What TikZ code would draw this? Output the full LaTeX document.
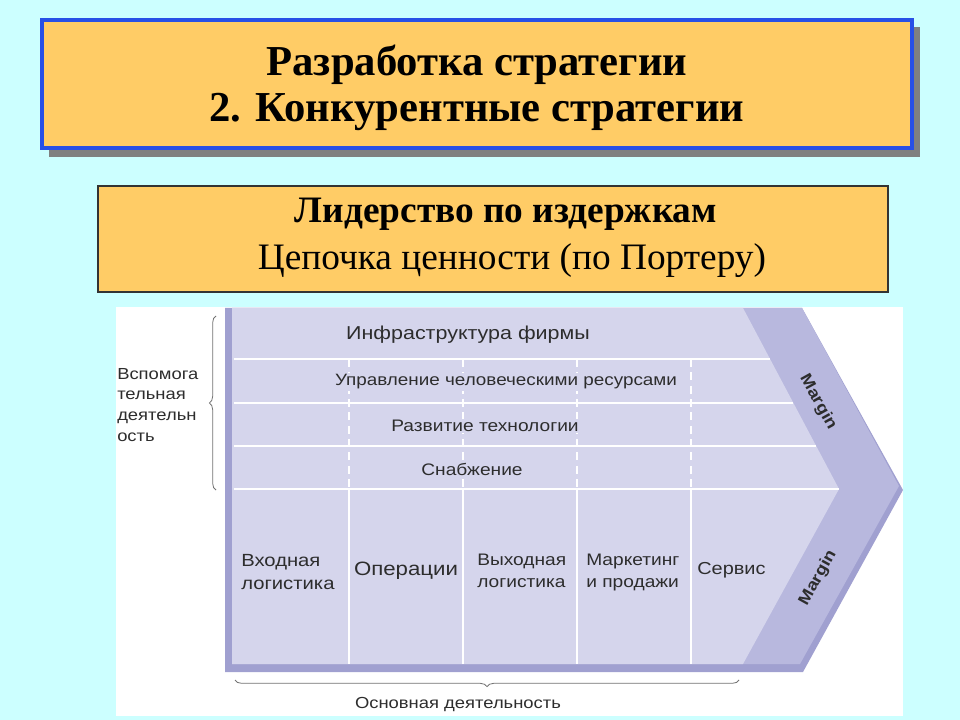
\documentclass[tikz,border=0pt]{standalone}
\usepackage{fontspec}
\setmainfont{Liberation Serif}
\newfontfamily\diagfont[FakeStretch=1.15]{Liberation Sans}
\usetikzlibrary{calc}
\usetikzlibrary{decorations.pathreplacing}
\definecolor{bgcyan}{RGB}{204,255,255}
\definecolor{titlefill}{RGB}{255,204,102}
\definecolor{titleblue}{RGB}{40,80,230}
\definecolor{panel}{RGB}{213,213,236}
\definecolor{marginband}{RGB}{184,184,222}
\definecolor{bevel}{RGB}{160,160,208}
\definecolor{labelgray}{RGB}{45,45,45}
\tikzstyle{rowlabel} = [text=labelgray, fill=panel, inner sep=1pt]
\tikzstyle{primlabel} = [font=\diagfont\fontsize{12.5}{16.5}\selectfont, text=labelgray, align=left, inner sep=0pt]
\tikzstyle{marginlabel} = [font=\diagfont\bfseries\fontsize{12}{14}\selectfont, text=labelgray]
\tikzstyle{sidelabel} = [font=\diagfont\fontsize{12}{15.5}\selectfont, text=labelgray, inner sep=0pt]
\tikzstyle{divider} = [white, line width=1.5pt]
\tikzstyle{bracket} = [decorate, decoration={brace, amplitude=5pt}, black!55, line width=0.6pt]

\begin{document}
\begin{tikzpicture}[x=0.75pt, y=-0.75pt]

	\fill[bgcyan] (0,0) rectangle (960,720);

	% title
	\fill[black!50] (49,27) rectangle (920,157);
	\draw[titleblue, line width=2.4pt, fill=titlefill] (42,20) rectangle (912,148);
	\node[font=\bfseries\fontsize{32}{36}\selectfont] (title1) at (477,65) {Разработка стратегии};
	\node[font=\bfseries\fontsize{32}{36}\selectfont] (title2) at (477,112) {2. Конкурентные стратегии};

	\draw[black!80, line width=0.9pt, fill=titlefill] (98,186) rectangle (888,292);
	\node[font=\bfseries\fontsize{28}{32}\selectfont] (leader) at (506,214) {Лидерство по издержкам};
	\node[font=\fontsize{28}{32}\selectfont] (chain) at (512,261) {Цепочка ценности (по Портеру)};

	% value chain
	\fill[white] (116,307) rectangle (903,716);
	\fill[bevel] (225,308) -- (802,308) -- (903,490) -- (803,672) -- (225,672) -- cycle;
	\fill[marginband] (232,308) -- (802,308) -- (899,486) -- (800,664) -- (232,664) -- cycle;
	\fill[panel] (232,308) -- (743,308) -- (839,489) -- (743,664) -- (232,664) -- cycle;

	\foreach \yy/\xx in {359/770, 403/793, 446/816, 489/839}
		\draw[divider] (234,\yy) -- (\xx,\yy);
	\foreach \xx in {349,463,577,691} {
		\draw[divider, dash pattern=on 6pt off 4pt] (\xx,359) -- (\xx,489);
		\draw[divider] (\xx,489) -- (\xx,664);
	}

	\node[rowlabel, font=\diagfont\fontsize{14}{16}\selectfont] (infra) at (468,335) {Инфраструктура фирмы};
	\node[rowlabel, font=\diagfont\fontsize{12.3}{14}\selectfont] (staff) at (506,382) {Управление человеческими ресурсами};
	\node[rowlabel, font=\diagfont\fontsize{12.5}{14}\selectfont] (techdev) at (485,426) {Развитие технологии};
	\node[rowlabel, font=\diagfont\fontsize{12.5}{14}\selectfont] (supply) at (472,469) {Снабжение};

	\node[primlabel, anchor=west, font=\diagfont\fontsize{13.2}{17}\selectfont] (inlog) at (241,572) {Входная\\логистика};
	\node[primlabel, font=\diagfont\fontsize{14.5}{17}\selectfont] (ops) at (406,571) {Операции};
	\node[primlabel, anchor=west] (outlog) at (477,571) {Выходная\\логистика};
	\node[primlabel, anchor=west] (sales) at (586,572) {Маркетинг\\и продажи};
	\node[primlabel, anchor=west, font=\diagfont\fontsize{13}{17}\selectfont] (service) at (697,570) {Сервис};

	\node[marginlabel, rotate=-61] (margin1) at (818,402) {Margin};
	\node[marginlabel, rotate=61] (margin2) at (818,578) {Margin};

	% braces
	\coordinate (supTop) at (216,316);
	\coordinate (supBot) at (216,490);
	\draw[bracket] (supBot) -- (supTop);
	\node[sidelabel, anchor=north west, align=left] (support) at (117,368) {Вспомога\\тельная\\деятельн\\ость};

	\coordinate (primL) at (235,680);
	\coordinate (primR) at (739,680);
	\draw[bracket] (primR) -- (primL);
	\node[sidelabel] (primary) at (458,705) {Основная деятельность};

\end{tikzpicture}
\end{document}
